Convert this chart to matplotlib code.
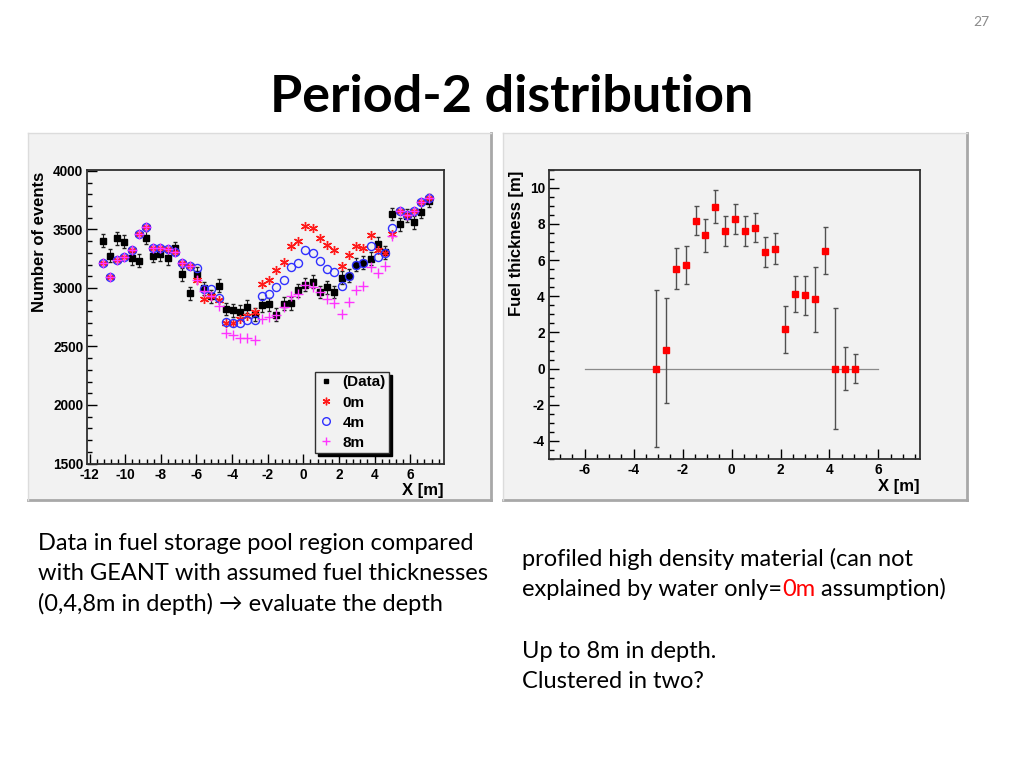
#------------- imports -------------#
import matplotlib
matplotlib.use("Agg")
import matplotlib.pyplot as plt
import matplotlib.patches as patches
from matplotlib.lines import Line2D
from matplotlib.ticker import MultipleLocator
import numpy as np

plt.rcParams['axes.unicode_minus'] = False

## left plot: counts vs X ##
x_left = [-11.27, -10.86, -10.46, -10.05, -9.64, -9.24, -8.83, -8.42, -8.02, -7.61,
          -7.20, -6.80, -6.39, -5.98, -5.58, -5.17, -4.76, -4.36, -3.95, -3.54,
          -3.14, -2.73, -2.32, -1.92, -1.51, -1.10, -0.70, -0.29, 0.12, 0.52,
          0.93, 1.34, 1.74, 2.15, 2.56, 2.97, 3.37, 3.78, 4.19, 4.59,
          5.00, 5.41, 5.81, 6.22, 6.63, 7.03]
data_counts = [3402, 3274, 3425, 3396, 3255, 3232, 3430, 3274, 3289, 3255,
               3340, 3118, 2956, 3121, 2996, 2927, 3018, 2820, 2808, 2797,
               2839, 2775, 2853, 2862, 2771, 2865, 2870, 2978, 3027, 3052,
               2965, 3007, 2965, 3089, 3104, 3197, 3217, 3249, 3377, 3306,
               3632, 3545, 3618, 3562, 3652, 3746]
sim_0m = [3212, 3093, 3240, 3268, 3323, 3462, 3519, 3345, 3345, 3331,
          3311, 3212, 3189, 3070, 2905, 2927, 2899, 2700, 2700, 2734,
          2762, 2795, 3030, 3070, 3150, 3220, 3362, 3405, 3533, 3510,
          3425, 3368, 3320, 3189, 3283, 3354, 3340, 3456, 3325, 3302,
          3460, 3660, 3624, 3660, 3732, 3772]
sim_4m = [3212, 3093, 3240, 3268, 3323, 3462, 3519, 3345, 3345, 3331,
          3311, 3212, 3189, 3172, 2990, 2990, 2916, 2705, 2702, 2702,
          2722, 2728, 2927, 2948, 3004, 3067, 3183, 3217, 3320, 3302,
          3226, 3161, 3132, 3018, 3104, 3197, 3217, 3354, 3266, 3298,
          3513, 3660, 3624, 3660, 3730, 3772]
sim_8m = [3212, 3093, 3240, 3268, 3323, 3462, 3519, 3345, 3345, 3331,
          3311, 3212, 3189, 3070, 2970, 2930, 2842, 2612, 2596, 2575,
          2568, 2555, 2734, 2750, 2771, 2840, 2927, 2950, 3027, 3012,
          2965, 2907, 2870, 2773, 2884, 2984, 3018, 3180, 3124, 3190,
          3445, 3660, 3624, 3660, 3730, 3772]
DATA_ERR = 55

## right plot: fitted fuel thickness ##
x_right = [-3.10, -2.69, -2.29, -1.88, -1.47, -1.07, -0.66, -0.26, 0.14, 0.55,
           0.96, 1.37, 1.78, 2.18, 2.59, 3.00, 3.41, 3.82, 4.22, 4.63, 5.04]
thick = [0.0, 1.02, 5.52, 5.74, 8.18, 7.37, 8.96, 7.61, 8.27, 7.61,
         7.79, 6.44, 6.63, 2.17, 4.14, 4.05, 3.83, 6.52, 0.0, 0.0, 0.0]
thick_err = [4.35, 2.90, 1.13, 1.06, 0.79, 0.92, 0.93, 0.82, 0.81, 0.82,
             0.80, 0.83, 0.86, 1.28, 0.99, 1.06, 1.80, 1.31, 3.35, 1.17, 0.81]

## slide text ##
title = "Period-2 distribution"
page_no = "27"
left_lines = ["Data in fuel storage pool region compared",
              "with GEANT with assumed fuel thicknesses",
              "(0,4,8m in depth) \u2192 evaluate the depth"]

BG = '#f2f2f2'
ROOT_FONT = ['Liberation Sans', 'DejaVu Sans']
SLIDE_FONT = ['Lato', 'DejaVu Sans']
BODY_SIZE = 17

fig = plt.figure(figsize=(10.24, 7.68), dpi=100)
W, H = 1024., 768.


def box(l, t, r, b):
    return [l / W, 1 - b / H, (r - l) / W, (b - t) / H]


def panel(l, t, r, b):
    fig.add_artist(patches.Rectangle((l / W, 1 - b / H), (r - l) / W, (b - t) / H,
                                     transform=fig.transFigure, facecolor=BG,
                                     edgecolor='none', zorder=0))
    fig.add_artist(Line2D([r / W, r / W], [1 - b / H, 1 - t / H], color='#a8a8a8', lw=2))
    fig.add_artist(Line2D([l / W, r / W], [1 - b / H, 1 - b / H], color='#a8a8a8', lw=2))
    fig.add_artist(Line2D([l / W, l / W], [1 - b / H, 1 - t / H], color='#dcdcdc', lw=1))
    fig.add_artist(Line2D([l / W, r / W], [1 - t / H, 1 - t / H], color='#dcdcdc', lw=1))


def root_axes(ax):
    ax.set_facecolor(BG)
    for s in ax.spines.values():
        s.set_color('#303030')
        s.set_linewidth(1.3)
    ax.tick_params(which='both', direction='in', top=False, right=False,
                   labelsize=9.8, pad=3)
    ax.tick_params(which='major', length=7, width=1)
    ax.tick_params(which='minor', length=3.5, width=1)
    for lab in ax.get_xticklabels() + ax.get_yticklabels():
        lab.set_fontweight('bold')
        lab.set_family(ROOT_FONT)


panel(28, 133, 491, 500)
panel(503, 133, 967, 500)

## left plot ##
axL = fig.add_axes(box(87.3, 169.7, 444, 463.5))
axL.errorbar(x_left, data_counts, yerr=DATA_ERR, fmt='none', ecolor='#202020',
             elinewidth=0.8, capsize=1.5, zorder=2)
axL.plot(x_left, data_counts, 's', color='black', ms=4.2, label='(Data)', zorder=3)
axL.plot(x_left, sim_0m, ls='none', marker=(6, 2, 0), color='#ff1a1a', ms=6.5,
         mew=1.0, label='0m', zorder=4)
axL.plot(x_left, sim_4m, 'o', mfc='none', mec='#3030ff', ms=5.8, mew=1.0,
         label='4m', zorder=5)
axL.plot(x_left, sim_8m, '+', color='#ff33ff', ms=6.5, mew=1.0, label='8m', zorder=6)
axL.set_xlim(-12.13, 7.9)
axL.set_ylim(1500, 4010)
axL.xaxis.set_major_locator(MultipleLocator(2))
axL.xaxis.set_minor_locator(MultipleLocator(0.4))
axL.yaxis.set_major_locator(MultipleLocator(500))
axL.yaxis.set_minor_locator(MultipleLocator(100))
root_axes(axL)
leg = axL.legend(loc='upper left', bbox_to_anchor=(0.639, 0.31), borderaxespad=0,
                 fancybox=False, edgecolor='#303030', facecolor=BG, framealpha=1,
                 shadow={'color': 'black', 'alpha': 1}, handlelength=1.0,
                 handletextpad=0.6, borderpad=0.2, labelspacing=0.4,
                 prop={'family': ROOT_FONT, 'weight': 'bold', 'size': 11})
for h in leg.legend_handles:
    h.set_markersize(5.5)
leg.legend_handles[0].set_markersize(3.5)
fig.text(40 / W, 1 - 242 / H, 'Number of events', rotation=90, ha='center', va='center',
         family=ROOT_FONT, weight='bold', size=12)
fig.text(444 / W, 1 - 491 / H, 'X [m]', ha='right', va='center',
         family=ROOT_FONT, weight='bold', size=12)

## right plot ##
axR = fig.add_axes(box(549, 169.7, 920, 459))
axR.plot([-6, 6], [0, 0], color='#8a8a8a', lw=0.9, zorder=1)
axR.errorbar(x_right, thick, yerr=thick_err, fmt='none', ecolor='#505050',
             elinewidth=1, capsize=1.8, zorder=2)
axR.plot(x_right, thick, 's', color='#ff0000', ms=4.5, zorder=3)
axR.set_xlim(-7.46, 7.7)
axR.set_ylim(-5, 11)
axR.xaxis.set_major_locator(MultipleLocator(2))
axR.xaxis.set_minor_locator(MultipleLocator(0.5))
axR.yaxis.set_major_locator(MultipleLocator(2))
axR.yaxis.set_minor_locator(MultipleLocator(0.5))
root_axes(axR)
fig.text(517 / W, 1 - 243 / H, 'Fuel thickness [m]', rotation=90, ha='center', va='center',
         family=ROOT_FONT, weight='bold', size=12)
fig.text(920 / W, 1 - 487 / H, 'X [m]', ha='right', va='center',
         family=ROOT_FONT, weight='bold', size=12)

## slide texts ##
fig.text(981 / W, 1 - 22 / H, page_no, ha='center', va='center', color='#8c8c8c',
         family=SLIDE_FONT, size=10)
fig.text(512 / W, 1 - 98 / H, title, ha='center', va='center', family=SLIDE_FONT,
         weight='bold', size=37.5)
for k, line in enumerate(left_lines):
    fig.text(38 / W, 1 - (543 + 30.5 * k) / H, line, ha='left', va='center',
             family=SLIDE_FONT, size=BODY_SIZE)

renderer = fig.canvas.get_renderer()


def colored_line(x, y, parts):
    for s, c in parts:
        t = fig.text(x / W, 1 - y / H, s, color=c, ha='left', va='center',
                     family=SLIDE_FONT, size=BODY_SIZE)
        x += t.get_window_extent(renderer).width


colored_line(522, 559, [("profiled high density material (can not", 'black')])
colored_line(522, 589, [("explained by water only=", 'black'), ("0m", '#ff0000'),
                        (" assumption)", 'black')])
colored_line(522, 651, [("Up to 8m in depth.", 'black')])
colored_line(522, 682, [("Clustered in two?", 'black')])

fig.savefig("out.png", dpi=100)
